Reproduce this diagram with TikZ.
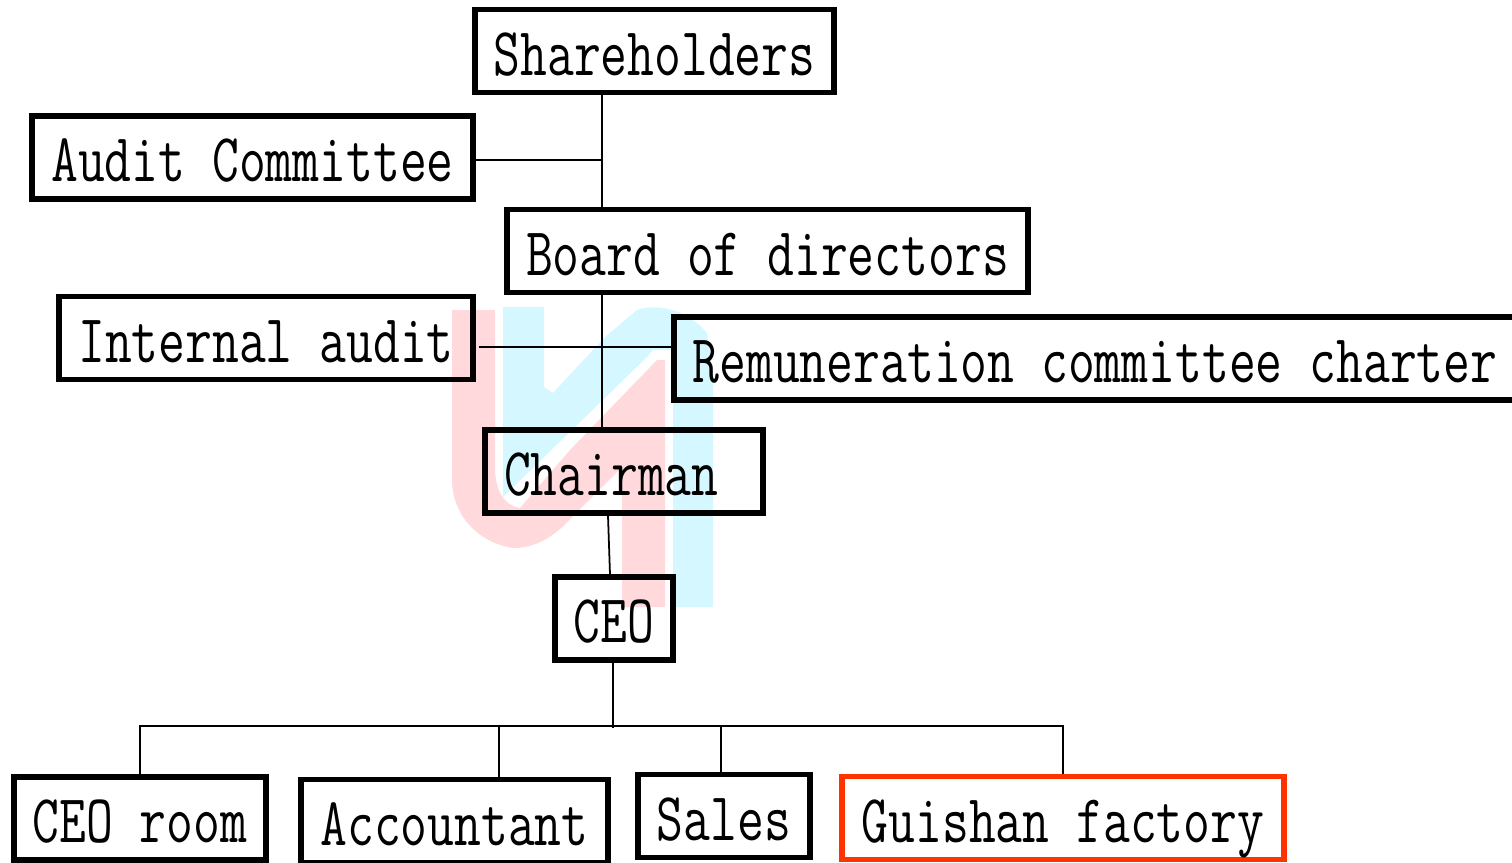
\documentclass[tikz,border=0pt]{standalone}
\usepackage{fontspec}
\setmonofont[FakeStretch=0.76]{Latin Modern Mono}
\usepackage{tikz}
\usetikzlibrary{calc}
\definecolor{markpink}{HTML}{FFD9DC}
\definecolor{markcyan}{HTML}{D5F7FF}
\definecolor{factoryred}{HTML}{FF3300}
\tikzset{
	orgbox/.style={draw=black, line width=1.5pt, minimum height=0.83cm, inner sep=0pt, text height=0.6cm, text depth=0.12cm, font=\ttfamily\fontsize{19.5}{21}\selectfont},
	link/.style={black, line width=0.5pt}
}

\begin{document}
\begin{tikzpicture}[text=black, scale = 1]
	\useasboundingbox (0,0) rectangle (15.12,8.62);

	% watermark
	\fill[markcyan] (5.03,5.55) -- (5.44,5.55) -- (5.44,4.75) -- (5.53,4.69) -- (6.05,5.25) -- (6.37,5.52)
		.. controls (6.6,5.6) and (6.9,5.5) .. (7.07,5.29) -- (7.13,4.89) -- (7.13,2.55) -- (6.73,2.55)
		-- (6.73,5.12) -- (6.53,5.12) -- (6.47,5.05) -- (5.03,3.65) -- cycle;
	\fill[markpink] (4.52,5.52) -- (4.95,5.52) -- (4.95,3.92) .. controls (4.96,3.7) and (5.05,3.56) .. (5.2,3.54)
		-- (5.7,4.12) -- (6.57,5.02) -- (6.65,5.02) -- (6.65,2.55) -- (6.22,2.55) -- (6.22,3.95) -- (5.72,3.45)
		.. controls (5.5,3.2) and (5.3,3.14) .. (5.13,3.14) .. controls (4.75,3.2) and (4.52,3.5) .. (4.52,3.82) -- cycle;

	% boxes
	\node (shareholders) [orgbox, minimum width=3.59cm] at (6.545,8.11) {Shareholders};
	\node (audit) [orgbox, minimum width=4.41cm] at (2.525,7.045) {Audit Committee};
	\node (board) [orgbox, minimum width=5.21cm] at (7.675,6.11) {Board of directors};
	\node (internal) [orgbox, minimum width=4.14cm] at (2.66,5.24) {Internal audit};
	\node (remuneration) [orgbox, minimum width=8.42cm] at (10.95,5.035) {Remuneration committee charter};
	\node (chairman) [orgbox, minimum width=2.78cm, text width=2.40cm, align=left] at (6.24,3.905) {Chairman};
	\node (ceo) [orgbox, minimum width=1.18cm] at (6.14,2.435) {CEO};
	\node (ceoroom) [orgbox, minimum width=2.52cm] at (1.40,0.435) {CEO room};
	\node (accountant) [orgbox, minimum width=3.07cm] at (4.545,0.41) {Accountant};
	\node (sales) [orgbox, minimum width=1.72cm] at (7.24,0.46) {Sales};
	\node (guishan) [orgbox, draw=factoryred, minimum width=4.42cm] at (10.63,0.44) {Guishan factory};

	% connections
	\coordinate (trunk) at (6.02,6);
	\coordinate (bus) at (6.13,1.36);
	\draw[link] (trunk |- shareholders.south) -- (trunk |- board.north);
	\draw[link] ([yshift=-0.025cm]audit.east) -- ([yshift=-0.025cm]audit.east -| trunk);
	\draw[link] (trunk |- board.south) -- (trunk |- chairman.north);
	\draw[link] ([xshift=0.03cm,yshift=-0.09cm]internal.east) -- ([xshift=0.03cm,yshift=-0.09cm]internal.east -| remuneration.west);
	\draw[link] ([xshift=-0.16cm]chairman.south) -- ([xshift=-0.04cm]ceo.north);
	\draw[link] ([xshift=-0.01cm]ceo.south) -- ([xshift=-0.01cm,yshift=-0.02cm]ceo.south |- bus);

	\draw[link] (ceoroom.north) |- (bus);
	\draw[link] (guishan.north) |- (bus);
	\draw[link] ([xshift=0.445cm]accountant.north) -- ([xshift=0.445cm]accountant.north |- bus);
	\draw[link] ([xshift=-0.03cm]sales.north) -- ([xshift=-0.03cm]sales.north |- bus);
\end{tikzpicture}
\end{document}
